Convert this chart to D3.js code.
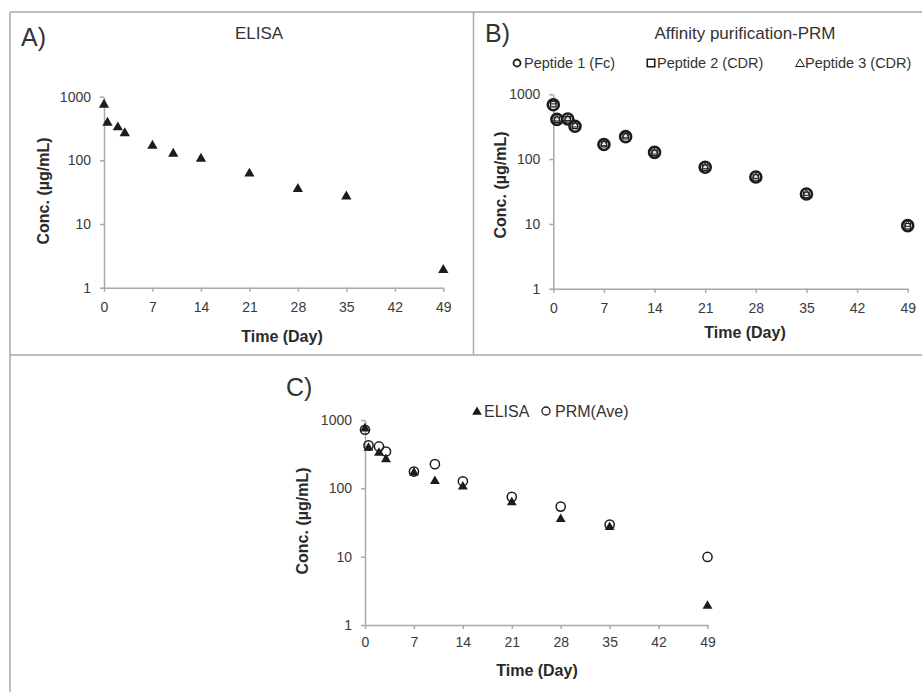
<!DOCTYPE html>
<html>
<head>
<meta charset="utf-8">
<script src="https://cdn.jsdelivr.net/npm/d3@7"></script>
<style>
body{margin:0;background:#fff}
svg{font-family:"Liberation Sans",Arial,sans-serif}
</style>
</head>
<body>
<svg id="chart" width="922" height="692"></svg>
<script>
// sampling days and concentrations (ug/mL)
const days = [0, 0.5, 2, 3, 7, 10, 14, 21, 28, 35, 49];
const elisa = [750, 390, 330, 266, 170, 127, 106, 62, 35.5, 27, 1.9];
const pep1 = [690, 410, 415, 322, 168, 222, 127, 75, 53, 29, 9.4];
const pep2 = [705, 405, 410, 326, 170, 225, 125, 74, 52, 28, 9.2];
const pep3 = [760, 415, 420, 334, 172, 228, 128, 76, 54, 29.5, 9.8];
const prmAve = [720, 425, 410, 345, 176, 226, 127, 75, 54, 29.5, 9.9];
const xTicks = [0, 7, 14, 21, 28, 35, 42, 49];
const yTicks = [1, 10, 100, 1000];

const svg = d3.select('#chart');
const ink = '#1c1c1c';
const axisGrey = '#a8a8a8';

// panel frame
const frame = svg.append('g').attr('stroke', '#a9a9a9').attr('stroke-width', 1.5);
frame.append('line').attr('x1', 10).attr('y1', 12).attr('x2', 922).attr('y2', 12);
frame.append('line').attr('x1', 10).attr('y1', 12).attr('x2', 10).attr('y2', 692);
frame.append('line').attr('x1', 473.5).attr('y1', 12).attr('x2', 473.5).attr('y2', 355);
frame.append('line').attr('x1', 10).attr('y1', 355).attr('x2', 922).attr('y2', 355);

function drawAxes(g, x, y, pad) {
    const xa = g.append('g')
        .attr('transform', `translate(0,${y(1)})`)
        .call(d3.axisBottom(x).tickValues(xTicks).tickSize(4).tickPadding(pad).tickSizeOuter(0));
    const ya = g.append('g')
        .attr('transform', `translate(${x(0)},0)`)
        .call(d3.axisLeft(y).tickValues(yTicks).tickFormat(d3.format('d')).tickSize(4).tickPadding(9).tickSizeOuter(0));
    [xa, ya].forEach(function(a){
        a.select('.domain').attr('stroke', axisGrey).attr('stroke-width', 1.5);
        a.selectAll('.tick line').attr('stroke', axisGrey).attr('stroke-width', 1.5);
        a.selectAll('.tick text').attr('fill', '#3a3a3a').style('font-size', '14px');
    });
}

function label(txt, x, y, size, opts) {
    opts = opts || {};
    const t = svg.append('text')
        .attr('x', x).attr('y', y)
        .attr('text-anchor', opts.anchor || 'middle')
        .attr('dominant-baseline', 'central')
        .attr('fill', opts.fill || '#333')
        .style('font-size', size + 'px')
        .style('font-weight', opts.bold ? 'bold' : 'normal')
        .text(txt);
    if (opts.rotate) t.attr('transform', `rotate(-90,${x},${y})`);
    return t;
}

const tri = (s) => d3.symbol().type(d3.symbolTriangle).size(s)();
const sq = (s) => d3.symbol().type(d3.symbolSquare).size(s)();

// ---------- A) ELISA
const xA = d3.scaleLinear().domain([0, 49]).range([104, 443.3]);
const yA = d3.scaleLog().domain([1, 1000]).range([287.7, 96.7]);
const gA = svg.append('g');
drawAxes(gA, xA, yA, 10);
gA.selectAll('.elisa')
    .data(days)
    .enter()
    .append('path')
    .attr('d', tri(46))
    .attr('fill', ink)
    .attr('transform', (d, i) => `translate(${xA(d)},${yA(elisa[i])})`);
label('A)', 21, 37, 25, {anchor: 'start'});
label('ELISA', 259, 33, 17);
label('Conc. (µg/mL)', 43, 191, 16, {bold: true, rotate: true, fill: '#2a2a2a'});
label('Time (Day)', 282, 336, 16, {bold: true, fill: '#2a2a2a'});

// ---------- B) Affinity purification-PRM
const xB = d3.scaleLinear().domain([0, 49]).range([553.3, 907.7]);
const yB = d3.scaleLog().domain([1, 1000]).range([288.7, 94.3]);
const gB = svg.append('g');
drawAxes(gB, xB, yB, 10);
gB.selectAll('.p1')
    .data(days)
    .enter()
    .append('circle')
    .attr('cx', d => xB(d))
    .attr('cy', (d, i) => yB(pep1[i]))
    .attr('r', 5.5)
    .attr('fill', '#e8e8e8')
    .attr('stroke', ink)
    .attr('stroke-width', 2.6);
gB.selectAll('.p2')
    .data(days)
    .enter()
    .append('path')
    .attr('d', sq(30))
    .attr('fill', 'none')
    .attr('stroke', ink)
    .attr('stroke-width', 1.2)
    .attr('transform', (d, i) => `translate(${xB(d)},${yB(pep2[i])})`);
gB.selectAll('.p3')
    .data(days)
    .enter()
    .append('path')
    .attr('d', tri(18))
    .attr('fill', 'none')
    .attr('stroke', ink)
    .attr('stroke-width', 1)
    .attr('transform', (d, i) => `translate(${xB(d)},${yB(pep3[i])})`);
label('B)', 485, 33, 25, {anchor: 'start'});
label('Affinity purification-PRM', 745, 33, 17);
label('Conc. (µg/mL)', 500, 185, 16, {bold: true, rotate: true, fill: '#2a2a2a'});
label('Time (Day)', 745, 332, 16, {bold: true, fill: '#2a2a2a'});

// legend B
const legB = svg.append('g');
legB.append('circle').attr('cx', 517).attr('cy', 63).attr('r', 3.5)
    .attr('fill', 'none').attr('stroke', ink).attr('stroke-width', 1.8);
label('Peptide 1 (Fc)', 524, 63, 14.5, {anchor: 'start'});
legB.append('path').attr('d', sq(56)).attr('transform', 'translate(651,63)')
    .attr('fill', 'none').attr('stroke', ink).attr('stroke-width', 1.6);
label('Peptide 2 (CDR)', 657, 63, 14.5, {anchor: 'start'});
legB.append('path').attr('d', tri(34)).attr('transform', 'translate(800,64)')
    .attr('fill', 'none').attr('stroke', ink).attr('stroke-width', 1);
label('Peptide 3 (CDR)', 805, 63, 14.5, {anchor: 'start'});

// ---------- C) ELISA vs PRM average
const xC = d3.scaleLinear().domain([0, 49]).range([365, 707.5]);
const yC = d3.scaleLog().domain([1, 1000]).range([625, 420]);
const gC = svg.append('g');
drawAxes(gC, xC, yC, 8);
gC.selectAll('.ce')
    .data(days)
    .enter()
    .append('path')
    .attr('d', tri(42))
    .attr('fill', ink)
    .attr('transform', (d, i) => `translate(${xC(d)},${yC(elisa[i])})`);
gC.selectAll('.cp')
    .data(days)
    .enter()
    .append('circle')
    .attr('cx', d => xC(d))
    .attr('cy', (d, i) => yC(prmAve[i]))
    .attr('r', 4.6)
    .attr('fill', 'none')
    .attr('stroke', ink)
    .attr('stroke-width', 1.5);
label('C)', 286, 387, 25, {anchor: 'start'});
label('Conc. (µg/mL)', 302, 521, 16, {bold: true, rotate: true, fill: '#2a2a2a'});
label('Time (Day)', 537, 670, 16, {bold: true, fill: '#2a2a2a'});

// legend C
const legC = svg.append('g');
legC.append('path').attr('d', tri(40)).attr('transform', 'translate(477,412)').attr('fill', ink);
label('ELISA', 484, 411, 16, {anchor: 'start'});
legC.append('circle').attr('cx', 546).attr('cy', 411).attr('r', 4)
    .attr('fill', 'none').attr('stroke', ink).attr('stroke-width', 1.3);
label('PRM(Ave)', 555, 411, 16, {anchor: 'start'});
</script>
</body>
</html>
